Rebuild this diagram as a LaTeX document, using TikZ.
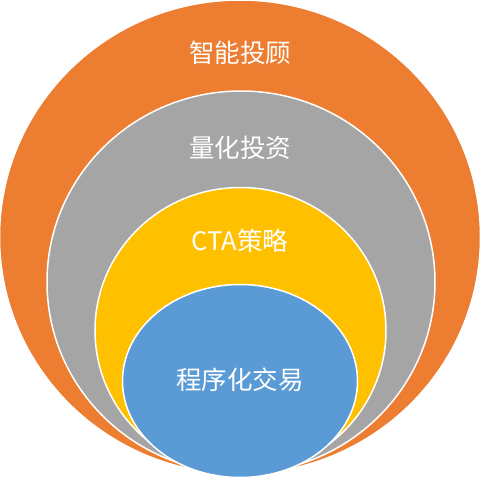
\documentclass[tikz,border=0pt]{standalone}
\usepackage{fontspec}
\newfontfamily\cjk{Noto Sans CJK SC}
\usetikzlibrary{shapes.geometric}
\definecolor{orangeC}{HTML}{ED7D31}
\definecolor{grayC}{HTML}{A5A5A5}
\definecolor{yellowC}{HTML}{FFC000}
\definecolor{blueC}{HTML}{5B9BD5}
\begin{document}
\begin{tikzpicture}[x=1pt,y=-1pt,
  ring/.style={ellipse, draw=white, line width=1.5pt, inner sep=0pt, outer sep=0pt},
  lbl/.style={text=white, font=\cjk\fontsize{25.5}{30}\selectfont, inner sep=0pt}]
\useasboundingbox (0,0) rectangle (480,477);
\begin{scope}
\clip (0,0) rectangle (480,477);
\node[ring, fill=orangeC, minimum width=481pt, minimum height=474pt] (o) at (240,237) {};
\node[ring, fill=grayC, minimum width=388pt, minimum height=382pt] (g) at (241,282) {};
\node[ring, fill=yellowC, minimum width=291pt, minimum height=286pt] (y) at (240.5,330.5) {};
\node[ring, fill=blueC, minimum width=235pt, minimum height=193pt] (b) at (240,381) {};
\end{scope}
\node[lbl] (to) at (240,53) {智能投顾};
\node[lbl] (tg) at (240,148) {量化投资};
\node[lbl] (ty) at (240,241) {CTA策略};
\node[lbl] (tb) at (240,380) {程序化交易};
\end{tikzpicture}
\end{document}
